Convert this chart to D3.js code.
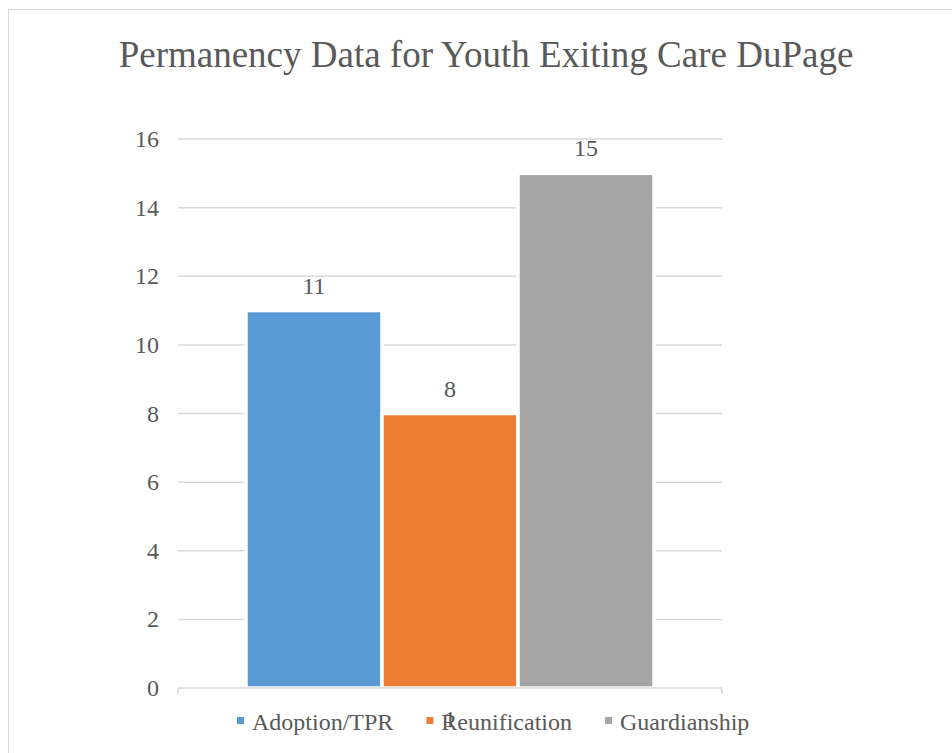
<!DOCTYPE html>
<html>
<head>
<meta charset="utf-8">
<script src="https://cdn.jsdelivr.net/npm/d3@7"></script>
</head>
<body style="margin:0">
<svg id="s" width="952" height="753"></svg>
<script>
const title = "Permanency Data for Youth Exiting Care DuPage";
const categories = ["1"];
const seriesNames = ["Adoption/TPR", "Reunification", "Guardianship"];
const seriesValues = [11, 8, 15];
const seriesColors = ["#5b9bd5", "#ed7d31", "#a5a5a5"];
const yTicks = [0, 2, 4, 6, 8, 10, 12, 14, 16];

const TXT = "#595959";

const svg = d3.select("#s");

// chart area border (cropped on the right and bottom)
svg.append("rect")
  .attr("x", 8.5).attr("y", 9.5)
  .attr("width", 1000).attr("height", 800)
  .attr("fill", "#fff").attr("stroke", "#d9d9d9").attr("stroke-width", 1);

function txt(sel) {
  sel.each(function () {
    this.style.setProperty("font-family", "'Liberation Serif'", "important");
    this.style.setProperty("fill", TXT, "important");
  });
  return sel;
}

// title
txt(svg.append("text"))
  .attr("x", 486).attr("y", 67)
  .attr("text-anchor", "middle")
  .attr("font-size", 37)
  .text(title);

const plot = { left: 178, right: 722, top: 139, bottom: 688 };

const y = d3.scaleLinear().domain([0, 16]).range([plot.bottom, plot.top]);
const x0 = d3.scaleBand().domain(categories).range([plot.left, plot.right])
  .paddingInner(1 / 7).paddingOuter(1 / 7);
const x1 = d3.scaleBand().domain(seriesNames).range([0, x0.bandwidth()]).padding(0);

// gridlines
svg.append("g").selectAll("line")
  .data(yTicks.filter(d => d > 0))
  .join("line")
  .attr("x1", plot.left).attr("x2", plot.right)
  .attr("y1", d => y(d)).attr("y2", d => y(d))
  .attr("stroke", "#d9d9d9").attr("stroke-width", 1.5);

// y tick labels
yTicks.forEach(v => {
  txt(svg.append("text"))
    .attr("x", 159).attr("y", y(v) + 8)
    .attr("text-anchor", "end")
    .attr("font-size", 24)
    .text(v);
});

// bars
const bars = categories.map(c => seriesNames.map((s, i) => ({ cat: c, name: s, value: seriesValues[i], color: seriesColors[i] }))).flat();
svg.append("g").selectAll("rect")
  .data(bars)
  .join("rect")
  .attr("x", d => x0(d.cat) + x1(d.name))
  .attr("y", d => y(d.value))
  .attr("width", x1.bandwidth())
  .attr("height", d => y(0) - y(d.value))
  .attr("fill", d => d.color)
  .attr("stroke", "#fff").attr("stroke-width", 3.5);

// data labels
bars.forEach(d => {
  txt(svg.append("text"))
    .attr("x", x0(d.cat) + x1(d.name) + x1.bandwidth() / 2)
    .attr("y", y(d.value) - 17)
    .attr("text-anchor", "middle")
    .attr("font-size", 24)
    .text(d.value);
});

// x axis line with end ticks
const axis = svg.append("g").attr("stroke", "#d9d9d9").attr("stroke-width", 1.5).attr("fill", "none");
axis.append("line").attr("x1", plot.left).attr("x2", plot.right).attr("y1", y(0)).attr("y2", y(0));
[plot.left, plot.right].forEach(b => {
  axis.append("line").attr("x1", b).attr("x2", b).attr("y1", y(0)).attr("y2", y(0) + 6);
});

// category label (overlaps the legend, as in the original)
categories.forEach(c => {
  txt(svg.append("text"))
    .attr("x", x0(c) + x0.bandwidth() / 2)
    .attr("y", 727)
    .attr("text-anchor", "middle")
    .attr("font-size", 24)
    .text(c);
});

// legend
let lx = 237;
seriesNames.forEach((name, i) => {
  svg.append("rect")
    .attr("x", lx).attr("y", 717).attr("width", 7).attr("height", 7)
    .attr("fill", seriesColors[i]);
  const t = txt(svg.append("text"))
    .attr("x", lx + 15).attr("y", 730)
    .attr("font-size", 24)
    .text(name);
  lx += 15 + t.node().getComputedTextLength() + 33;
});
</script>
</body>
</html>
